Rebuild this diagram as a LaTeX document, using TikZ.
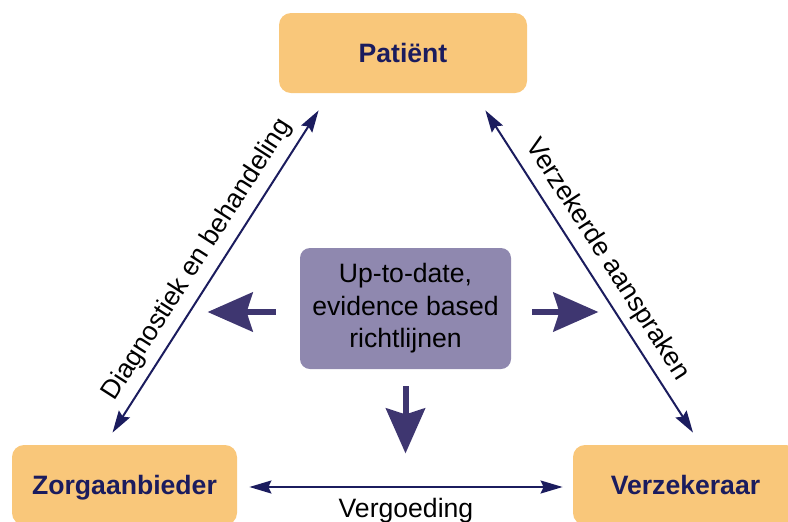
\documentclass[tikz,border=0pt]{standalone}
\usepackage{fontspec}
\setmainfont{Liberation Sans}
\usetikzlibrary{arrows.meta}

\definecolor{partyfill}{HTML}{F9C77A}
\definecolor{guidefill}{HTML}{8F88AF}
\definecolor{linkblue}{HTML}{1B1C5E}
\definecolor{pushblue}{HTML}{3E3670}

\tikzset{
  party/.style={fill=partyfill,rounded corners=6pt,minimum width=112.5pt,
    minimum height=40pt,text height=9.7pt,text depth=0pt,text=linkblue,
    font=\fontsize{13.3}{16}\selectfont\bfseries},
  guide/.style={fill=guidefill,rounded corners=5pt,minimum width=105.5pt,
    minimum height=60.5pt,align=center,font=\fontsize{13.3}{16.25}\selectfont},
  link/.style={draw=linkblue,line width=1pt,
    >={Stealth[length=11pt,width=6.5pt,inset=1.5pt]},<->},
  linklabel/.style={font=\fontsize{13.3}{16}\selectfont,inner sep=4pt},
  push/.style={draw=pushblue,line width=3pt,
    -{Stealth[length=22.5pt,width=19.5pt,inset=3pt]}},
}

\begin{document}
\begin{tikzpicture}[x=.5pt,y=-.5pt]
  \clip (0,0) rectangle (788,521);
  % the three parties
  \node[party,minimum width=124pt] (pat) at (403,53) {Patiënt};
  \node[party] (zorg) at (124.5,485) {Zorgaanbieder};
  \node[party] (verz) at (685.5,485) {Verzekeraar};
  % guidelines in the middle
  \node[guide] (richt) at (405.5,308.5) {Up-to-date,\\evidence based\\richtlijnen};
  % relations
  \draw[link] ([shift={(-12,-12)}]zorg.north) --
    node[linklabel,sloped,above] {Diagnostiek en behandeling}
    ([shift={(40,17)}]pat.south west);
  \draw[link] ([shift={(-42,17)}]pat.south east) --
    node[linklabel,sloped,above] {Verzekerde aanspraken}
    ([shift={(7.5,-12)}]verz.north);
  \draw[link] ([shift={(12,2)}]zorg.east) --
    node[linklabel,below,inner sep=5pt] {Vergoeding}
    ([shift={(-10,2)}]verz.west);
  % influence of the guidelines
  \draw[push] ([shift={(-24,3.5)}]richt.west) -- +(-68,0);
  \draw[push] ([shift={(21,3.5)}]richt.east) -- +(66,0);
  \draw[push] ([shift={(0,17)}]richt.south) -- +(0,67);
\end{tikzpicture}
\end{document}
